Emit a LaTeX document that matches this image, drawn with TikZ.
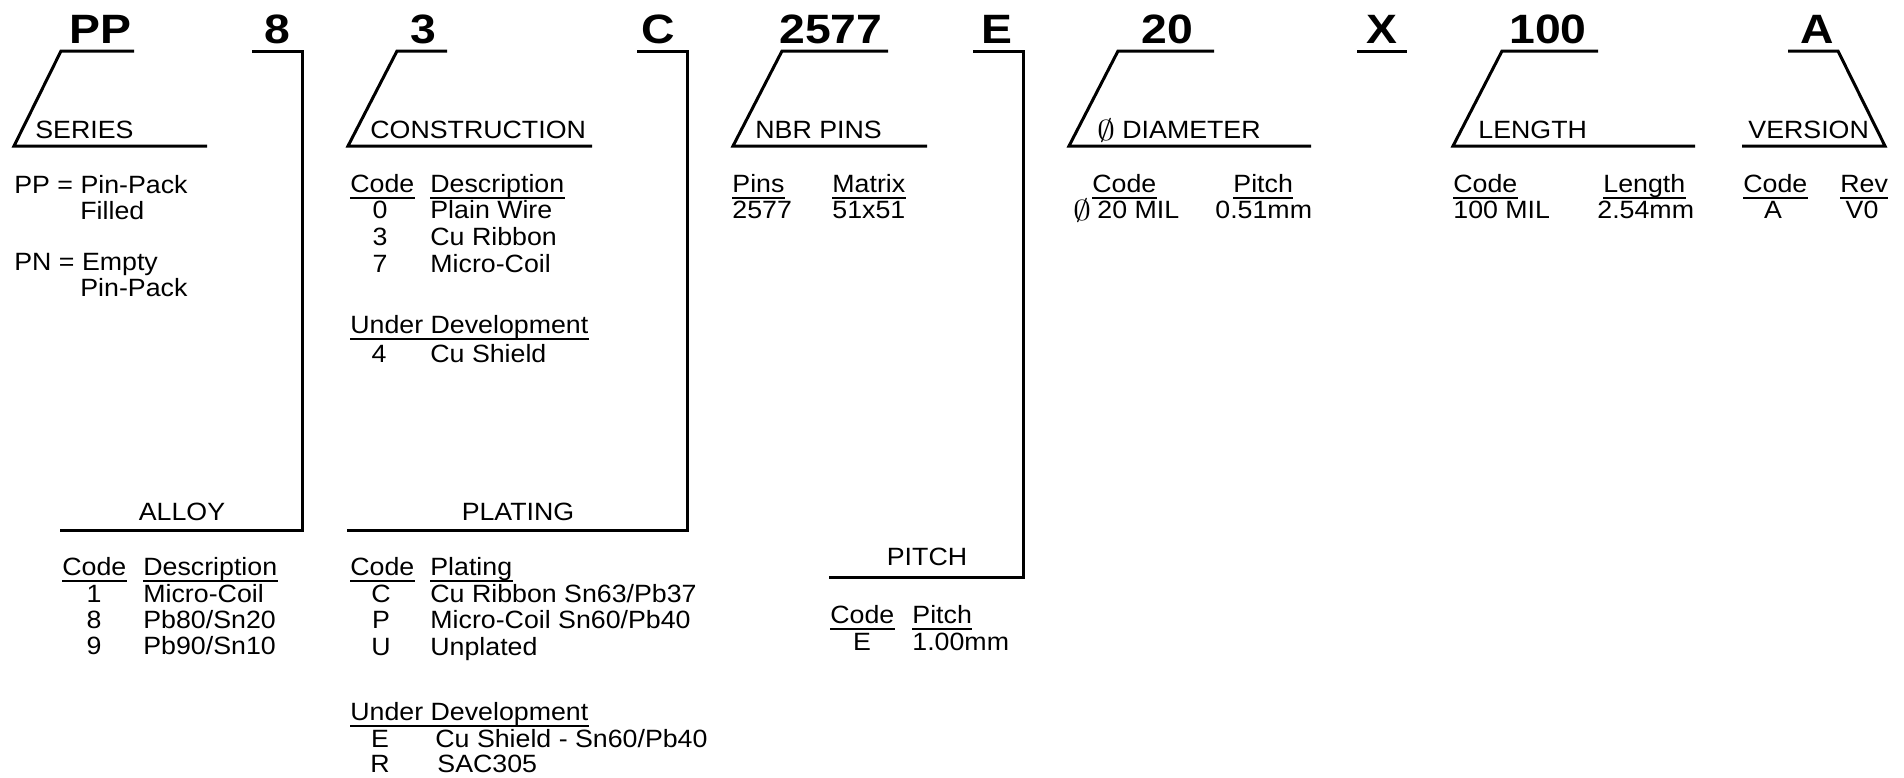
\documentclass[tikz,border=0pt]{standalone}
\usepackage{graphicx}
\usepackage{fontspec}
\setmainfont{Liberation Sans}[FakeStretch=1.07]
\newfontfamily\titlefont{Liberation Sans}[FakeStretch=1.13]
\newcommand\diasym{\scalebox{1.25}[1]{$\emptyset$}}
\tikzset{
  bline/.style={line width=1.5pt, line join=miter},
  ul/.style={line width=0.65pt},
  lbl/.style={font=\fontsize{12.5}{15}\selectfont, inner sep=0pt, anchor=base west},
  lblc/.style={lbl, anchor=base},
  ttl/.style={font=\titlefont\bfseries\fontsize{20.5}{24}\selectfont, inner sep=0pt, anchor=base},
  dia/.style={font=\fontsize{14.4}{17}\selectfont, inner sep=0pt, anchor=base west}
}
\newcommand\hdrw[4]{\node[lbl] (#1) at (#2,#3) {#4};
  \draw[ul] ([yshift=-3pt]#1.base west) -- ([yshift=-3pt]#1.base east);}
\begin{document}
\begin{tikzpicture}[x=0.5pt,y=-0.5pt]
\useasboundingbox (0,0) rectangle (1904,777);
% titles
\node[ttl] (tPP) at (100,43) {PP};
\node[ttl] (t8) at (277,43) {8};
\node[ttl] (t3) at (423,43) {3};
\node[ttl] (tC) at (658,43) {C};
\node[ttl] (t2577) at (831,43) {2577};
\node[ttl] (tE) at (997,43) {E};
\node[ttl] (t20) at (1167,43) {20};
\node[ttl] (tX) at (1382,43) {X};
\node[ttl] (t100) at (1548,43) {100};
\node[ttl] (tA) at (1817,43) {A};
% brackets
\draw[bline] (134,51) -- (61,51) -- (14,146) -- (207,146);
\draw[bline] (252,51) -- (302,51) -- (302,530) -- (60,530);
\draw[bline] (447,51) -- (397,51) -- (348,146) -- (592,146);
\draw[bline] (637,51) -- (687,51) -- (687,530) -- (347,530);
\draw[bline] (888,51) -- (782,51) -- (733,146) -- (927,146);
\draw[bline] (973,51) -- (1023,51) -- (1023,577) -- (829,577);
\draw[bline] (1214,51) -- (1118,51) -- (1069,146) -- (1311,146);
\draw[bline] (1357,51) -- (1407,51);
\draw[bline] (1598,51) -- (1502,51) -- (1453,146) -- (1695,146);
\draw[bline] (1788,51) -- (1838,51) -- (1885,146) -- (1742,146);
% section labels
\node[lbl] (sSer) at (35,138) {SERIES};
\node[lbl] (sCon) at (370,138) {CONSTRUCTION};
\node[lbl] (sNbr) at (755,138) {NBR PINS};
\node[dia] (sDiaS) at (1097,140) {\diasym};
\node[lbl] (sDia) at (1122,138) {DIAMETER};
\node[lbl] (sLen) at (1478,138) {LENGTH};
\node[lbl] (sVer) at (1748,138) {VERSION};
\node[lblc] (sAlloy) at (182,520) {ALLOY};
\node[lblc] (sPlat) at (518,520) {PLATING};
\node[lblc] (sPitch) at (927,565) {PITCH};
% series
\node[lbl] (ser1) at (14,193) {PP = Pin-Pack};
\node[lbl] (ser2) at (80,219) {Filled};
\node[lbl] (ser3) at (14,270) {PN = Empty};
\node[lbl] (ser4) at (80,296) {Pin-Pack};
% construction
\hdrw{cC}{350}{192}{Code}
\hdrw{cD}{430}{192}{Description}
\node[lblc] (c0) at (380,218) {0}; \node[lbl] (c0d) at (430,218) {Plain Wire};
\node[lblc] (c3) at (380,245) {3}; \node[lbl] (c3d) at (430,245) {Cu Ribbon};
\node[lblc] (c7) at (380,272) {7}; \node[lbl] (c7d) at (430,272) {Micro-Coil};
\hdrw{cU}{350}{333}{Under Development}
\node[lblc] (c4) at (379,362) {4}; \node[lbl] (c4d) at (430,362) {Cu Shield};
% alloy
\hdrw{aC}{62}{575}{Code}
\hdrw{aD}{143}{575}{Description}
\node[lblc] (a1) at (94,602) {1}; \node[lbl] (a1d) at (143,602) {Micro-Coil};
\node[lblc] (a8) at (94,628) {8}; \node[lbl] (a8d) at (143,628) {Pb80/Sn20};
\node[lblc] (a9) at (94,654) {9}; \node[lbl] (a9d) at (143,654) {Pb90/Sn10};
% plating
\hdrw{pC}{350}{575}{Code}
\hdrw{pD}{430}{575}{Plating}
\node[lblc] (pc) at (381,602) {C}; \node[lbl] (pcd) at (430,602) {Cu Ribbon Sn63/Pb37};
\node[lblc] (pp) at (381,628) {P}; \node[lbl] (ppd) at (430,628) {Micro-Coil Sn60/Pb40};
\node[lblc] (pu) at (381,655) {U}; \node[lbl] (pud) at (430,655) {Unplated};
\hdrw{pU}{350}{720}{Under Development}
\node[lblc] (pe) at (380,747) {E}; \node[lbl] (ped) at (435,747) {Cu Shield - Sn60/Pb40};
\node[lblc] (pr) at (380,772) {R}; \node[lbl] (prd) at (437,772) {SAC305};
% nbr pins
\hdrw{nP}{732}{192}{Pins}
\hdrw{nM}{832}{192}{Matrix}
\node[lbl] (n1) at (732,218) {2577};
\node[lbl] (n2) at (832,218) {51x51};
% pitch
\hdrw{ptC}{830}{623}{Code}
\hdrw{ptP}{912}{623}{Pitch}
\node[lblc] (pt1) at (862,650) {E};
\node[lbl] (pt2) at (912,650) {1.00mm};
% diameter
\hdrw{dC}{1092}{192}{Code}
\hdrw{dP}{1233}{192}{Pitch}
\node[dia] (d1s) at (1073,220) {\diasym};
\node[lbl] (d1) at (1097,218) {20 MIL};
\node[lbl] (d2) at (1215,218) {0.51mm};
% length
\hdrw{lC}{1453}{192}{Code}
\hdrw{lL}{1603}{192}{Length}
\node[lbl] (l1) at (1453,218) {100 MIL};
\node[lbl] (l2) at (1597,218) {2.54mm};
% version
\hdrw{vC}{1743}{192}{Code}
\hdrw{vR}{1840}{192}{Rev}
\node[lblc] (v1) at (1773,218) {A};
\node[lblc] (v2) at (1862,218) {V0};
\end{tikzpicture}
\end{document}
